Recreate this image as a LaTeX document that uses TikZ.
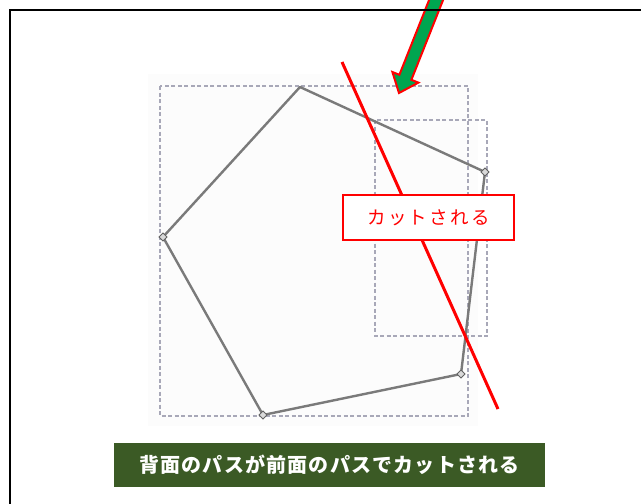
\documentclass[tikz,border=0pt]{standalone}
\usepackage{fontspec}
\newfontfamily\cjk{Noto Sans CJK JP}[LetterSpace=6]
\newfontfamily\cjkspaced{Noto Sans CJK JP}[LetterSpace=12]
\usetikzlibrary{calc,shapes.geometric}
\definecolor{bannergreen}{HTML}{3B5A25}
\definecolor{arrowgreen}{HTML}{00A550}
\definecolor{dashgray}{HTML}{A8A8B8}
\definecolor{pentgray}{HTML}{7A7A7A}
\tikzset{
  guiderect/.style={draw=dashgray, line width=1.1pt, dash pattern=on 4pt off 2.5pt},
  pentline/.style={draw=pentgray, line width=2.4pt, line join=round},
  vmark/.style={draw=pentgray!80!black, fill=gray!30, line width=0.9pt, diamond, inner sep=0pt, minimum size=8.5pt},
  cutlabel/.style={draw=red, line width=2pt, fill=white, minimum width=171pt, minimum height=45pt, inner sep=0pt, text=red, font=\cjkspaced\fontsize{18.5}{20}\selectfont},
  banner/.style={fill=bannergreen, minimum width=431pt, minimum height=44pt, inner sep=0pt, text=white, font=\cjk\bfseries\fontsize{20}{22}\selectfont},
}
\begin{document}
\begin{tikzpicture}[x=1pt, y=-1pt]
\useasboundingbox (0,0) rectangle (641,504);
\fill[white] (0,0) rectangle (641,504);
% faint backdrop
\fill[gray!2] (148,74) rectangle (478,426);
% guide rectangles
\draw[guiderect] (160,86) rectangle (468,416);
\draw[guiderect] (375,120) rectangle (487,336);
% pentagon
\coordinate (p1) at (300,87);
\coordinate (p2) at (485,172);
\coordinate (p3) at (461,374);
\coordinate (p4) at (263,415);
\coordinate (p5) at (163,237);
\draw[pentline] (p1) -- (p2) -- (p3) -- (p4) -- (p5) -- cycle;
\node[vmark] (m2) at (p2) {};
\node[vmark] (m3) at (p3) {};
\node[vmark] (m4) at (p4) {};
\node[vmark] (m5) at (p5) {};
% red cut line
\coordinate (c1) at (342,62);
\coordinate (c2) at (498,409);
\draw[red, line width=3pt] (c1) -- (c2);
\node[cutlabel] (cut) at (428.5,217.5) {カットされる};
% arrow and frame
\begin{scope}
\clip (0,0) rectangle (641,504);
\draw[red, line width=2pt, fill=arrowgreen, line join=miter]
  (399,93) -- (392.4,72.0) -- (399.4,74.8) -- (441,-30) -- (453,-25) -- (411.4,79.8) -- (418.4,82.6) -- cycle;
\draw[black, line width=2pt] (660,10) -- (10,10) -- (10,520);
\end{scope}
\node[banner] (title) at (329.5,465) {背面のパスが前面のパスでカットされる};
\end{tikzpicture}
\end{document}
